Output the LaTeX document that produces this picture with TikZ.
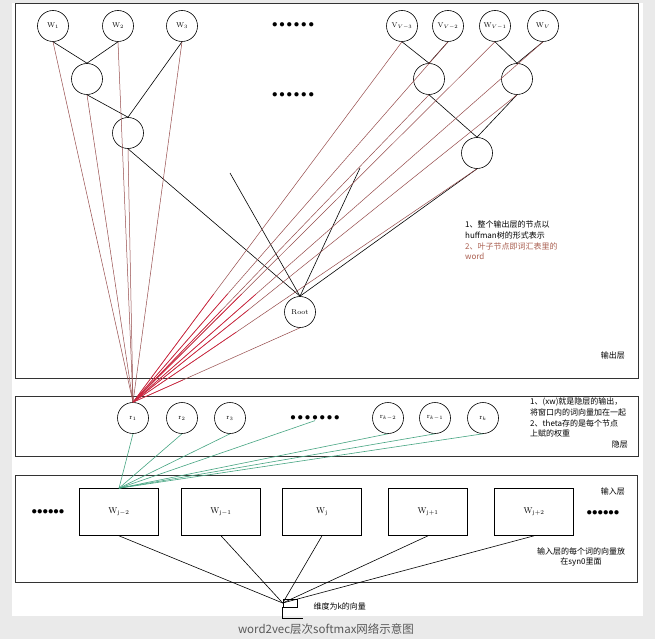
\documentclass[tikz,border=0pt]{standalone}
\usepackage{fontspec}
\newfontfamily\cjk{Noto Sans CJK SC}
\usepackage{tikz}
\usetikzlibrary{positioning, calc}
\usepackage{xcolor}
\definecolor{raycol}{RGB}{150,75,75}
\definecolor{raytip}{RGB}{215,30,60}
\definecolor{hidcol}{RGB}{70,165,130}
\definecolor{bandgray}{RGB}{234,234,234}
\definecolor{notered}{RGB}{170,95,80}

\begin{document}
\begin{tikzpicture}[
  x=1pt, y=-1pt,
  wnode/.style={draw, circle, minimum size=31pt, inner sep=0pt, font=\fontsize{7}{8}\selectfont, line width=0.6pt},
  innode/.style={draw, circle, minimum size=31pt, inner sep=0pt, line width=0.6pt},
  wbox/.style={draw, minimum width=79pt, minimum height=47pt, font=\fontsize{8.5}{9}\selectfont, line width=0.6pt},
  layer/.style={draw=black!80, line width=0.8pt},
  tree/.style={line width=0.6pt},
  ray/.style={draw=raycol, line width=0.5pt},
  tipray/.style={draw=raytip, line width=0.6pt},
  hid/.style={draw=hidcol, line width=0.6pt},
  note/.style={font=\cjk\fontsize{8}{10.6}\selectfont, align=left, inner sep=0pt},
  dotrow/.style={font=\fontsize{10.5}{10}\selectfont, inner sep=0pt},
]
  \fill[bandgray] (0,0) rectangle (655,639);
  \fill[white] (12,3) rectangle (643,616);
  \useasboundingbox (0,0) rectangle (655,639);

  % layers
  \draw[layer] (15,3) rectangle (638,378);
  \draw[layer] (15,396) rectangle (638,456);
  \draw[layer] (15,475) rectangle (637,582);

  % output layer: huffman tree
  \node[wnode] (w1) at (53,26) {$\mathrm{W}_1$};
  \node[wnode] (w2) at (118,26) {$\mathrm{W}_2$};
  \node[wnode] (w3) at (182,26) {$\mathrm{W}_3$};
  \node[dotrow] (odots) at (293,25) {${\bullet}\,{\bullet}\,{\bullet}\,{\bullet}\,{\bullet}\,{\bullet}$};
  \node[wnode] (vm3) at (402,26) {$\mathrm{V}_{V-3}$};
  \node[wnode] (vm2) at (448,26) {$\mathrm{V}_{V-2}$};
  \node[wnode] (wm1) at (495,26) {$\mathrm{W}_{V-1}$};
  \node[wnode] (wv) at (543,26) {$\mathrm{W}_V$};

  \node[innode] (a) at (87,79) {};
  \node[innode] (b) at (128,133) {};
  \node[dotrow] (mdots) at (293,95) {${\bullet}\,{\bullet}\,{\bullet}\,{\bullet}\,{\bullet}\,{\bullet}$};
  \node[innode] (c) at (429,79) {};
  \node[innode] (d) at (517,79) {};
  \node[innode] (e) at (477,153) {};
  \node[innode, font=\fontsize{7}{8}\selectfont] (root) at (300,312) {Root};
  \coordinate (ldots) at (230,173);
  \coordinate (rdots) at (360,168);

  \draw[tree] (w1.south) -- (a.north);
  \draw[tree] (w2.south) -- (a.north);
  \draw[tree] (a.south) -- (b.north);
  \draw[tree] (w3.south) -- (b.north);
  \draw[tree] (vm3.south) -- (c.north);
  \draw[tree] (vm2.south) -- (c.north);
  \draw[tree] (wm1.south) -- (d.north);
  \draw[tree] (wv.south) -- (d.north);
  \draw[tree] (c.south) -- (e.north);
  \draw[tree] (d.south) -- (e.north);
  \foreach \n in {b.south, e.south, ldots, rdots}
    \draw[tree] (\n) -- (root.north);

  % hidden layer
  \node[wnode] (r1) at (133,418) {$\mathrm{r}_1$};
  \node[wnode] (r2) at (182,418) {$\mathrm{r}_2$};
  \node[wnode] (r3) at (230,418) {$\mathrm{r}_3$};
  \node[dotrow] (hdots) at (315,418) {${\bullet}\,{\bullet}\,{\bullet}\,{\bullet}\,{\bullet}\,{\bullet}\,{\bullet}$};
  \node[wnode] (rk2) at (388,418) {$\mathrm{r}_{k-2}$};
  \node[wnode] (rk1) at (435,418) {$\mathrm{r}_{k-1}$};
  \node[wnode] (rk) at (483,418) {$\mathrm{r}_k$};

  \foreach \n in {w1,w2,w3,a,b}
    \draw[ray] (r1.north) -- (\n.south);
  \foreach \n in {vm3,vm2,wm1,wv,c,d,e,root} {
    \draw[ray] (r1.north) -- (\n.south);
    \draw[tipray] (r1.north) -- ($(r1.north)!0.3!(\n.south)$);
  }

  % input layer
  \node[wbox] (wm2) at (119,512) {$\mathrm{W}_{\mathrm{j-2}}$};
  \node[wbox] (wj1) at (221,512) {$\mathrm{W}_{\mathrm{j-1}}$};
  \node[wbox] (wj) at (322,512) {$\mathrm{W}_{\mathrm{j}}$};
  \node[wbox] (wp1) at (428,512) {$\mathrm{W}_{\mathrm{j+1}}$};
  \node[wbox] (wp2) at (534,512) {$\mathrm{W}_{\mathrm{j+2}}$};
  \node[dotrow] (ldotsin) at (48,512) {${\bullet}{\bullet}{\bullet}{\bullet}{\bullet}{\bullet}$};
  \node[dotrow] (rdotsin) at (603,513) {${\bullet}{\bullet}{\bullet}{\bullet}{\bullet}{\bullet}$};

  \foreach \n in {r1,r2,r3,hdots,rk2,rk1,rk}
    \draw[hid] (\n.south) -- (wm2.north);

  \node[draw, minimum width=14pt, minimum height=8pt, inner sep=0pt, line width=0.6pt] (vec) at (290,603) {};
  \draw[tree] (vec.south west) -- ++(0,11) -- ++(20,0);
  \foreach \n in {wm2,wj1,wj,wp1,wp2}
    \draw[tree] (\n.south) -- (vec.west);
  \node[note, anchor=west, right=16pt of vec.east, yshift=-3pt] (veclbl) {维度为k的向量};

  % notes
  \node[note, anchor=north west] (onote) at (465,221) {1、整个输出层的节点以\\huffman树的形式表示\\\textcolor{notered}{2、叶子节点即词汇表里的}\\\textcolor{notered}{word}};
  \node[note, anchor=east] (olbl) at (625,355) {输出层};
  \node[note, anchor=north west] (hnote) at (530,398) {1、(xw)就是隐层的输出，\\将窗口内的词向量加在一起\\2、theta存的是每个节点\\上赋的权重};
  \node[note, anchor=east] (hlbl) at (628,445) {隐层};
  \node[note, anchor=east] (ilbl) at (625,491) {输入层};
  \node[note, align=center] (inote) at (581,557) {输入层的每个词的向量放\\在syn0里面};

  \node[font=\cjk\fontsize{11.5}{12}\selectfont, text=black!65] (caption) at (326,629) {word2vec层次softmax网络示意图};
\end{tikzpicture}
\end{document}
